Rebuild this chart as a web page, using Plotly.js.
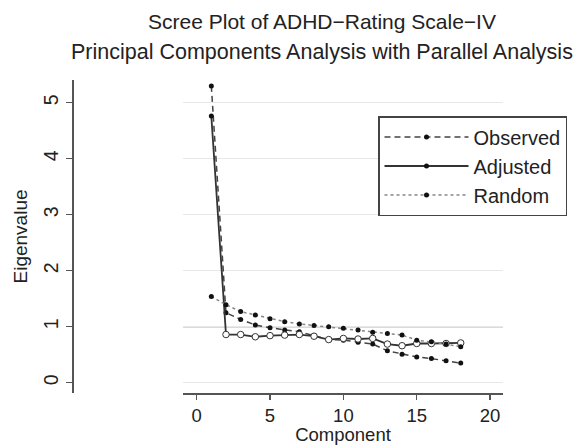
<!DOCTYPE html>
<html>
<head>
<meta charset="utf-8">
<script src="https://cdn.plot.ly/plotly-3.0.1.min.js"></script>
<style>html,body{margin:0;padding:0;background:#fff;}#chart{width:587px;height:445px;}</style>
</head>
<body>
<div id="chart"></div>
<script>
// ---- data ----
const components = [1,2,3,4,5,6,7,8,9,10,11,12,13,14,15,16,17,18];
const observed = [5.30,1.25,1.13,1.03,0.98,0.94,0.91,0.84,0.77,0.76,0.72,0.69,0.57,0.51,0.46,0.43,0.39,0.35];
const adjusted = [4.76,0.86,0.86,0.82,0.84,0.85,0.86,0.83,0.77,0.79,0.78,0.79,0.69,0.66,0.70,0.70,0.70,0.71];
const random   = [1.54,1.39,1.27,1.21,1.14,1.09,1.05,1.02,1.00,0.97,0.94,0.90,0.88,0.85,0.76,0.73,0.69,0.64];
const retained = [true,false,false,false,false,false,false,false,false,false,false,false,false,false,false,false,false,false];
const seriesNames = ["Observed","Adjusted","Random"];
const xTicks = [0,5,10,15,20];
const yTicks = [0,1,2,3,4,5];
const kaiserValue = 1;
const titleText = "Scree Plot of ADHD\u2212Rating Scale\u2212IV";
const subtitleText = "Principal Components Analysis with Parallel Analysis";

const FONT = "Liberation Sans, Arial, Helvetica, sans-serif";
const W = 587, H = 445;
const mT = 80, mB = 52;
const plotH = H - mT - mB;

const unretainedX = components.filter((c, i) => !retained[i]);
const unretainedY = adjusted.filter((v, i) => !retained[i]);

const traces = [
  {
    x: components, y: observed, name: seriesNames[0], type: "scatter", mode: "lines+markers",
    line: {color: "#444", width: 1.5, dash: "6px,4px"},
    marker: {color: "#111", size: 5}
  },
  {
    x: components, y: adjusted, name: seriesNames[1], type: "scatter", mode: "lines+markers",
    line: {color: "#333", width: 1.8},
    marker: {color: "#111", size: 5}
  },
  {
    x: unretainedX, y: unretainedY, name: seriesNames[1] + " (not retained)", type: "scatter", mode: "markers",
    showlegend: false,
    marker: {color: "#fff", size: 6.5, line: {color: "#333", width: 1}}
  },
  {
    x: components, y: random, name: seriesNames[2], type: "scatter", mode: "lines+markers",
    line: {color: "#888", width: 1.5, dash: "dot"},
    marker: {color: "#111", size: 5}
  }
];

const layout = {
  width: W, height: H,
  margin: {l: 0, r: 0, t: mT, b: mB},
  paper_bgcolor: "#fff", plot_bgcolor: "#fff",
  font: {family: FONT, color: "#222", size: 19},
  showlegend: true,
  title: {
    text: titleText,
    font: {family: FONT, size: 21, color: "#222"},
    x: 322 / W, xanchor: "center", xref: "paper",
    y: 1 - 22 / H, yanchor: "middle", yref: "container"
  },
  annotations: [{
    text: subtitleText, showarrow: false,
    xref: "paper", yref: "paper",
    x: 322 / W, xanchor: "center",
    y: (H - mB - 52) / plotH, yanchor: "middle",
    font: {family: FONT, size: 21.5, color: "#222"}
  }],
  xaxis: {
    domain: [183 / W, 503 / W],
    range: [-0.93, 20.88],
    tickvals: xTicks, ticktext: xTicks.map(String),
    showgrid: false, zeroline: false,
    showline: true, linecolor: "#555", linewidth: 1.5,
    ticks: "outside", ticklen: 5, tickcolor: "#555", tickwidth: 1.2,
    tickfont: {family: FONT, size: 18.5, color: "#222"},
    title: {text: "Component", font: {family: FONT, size: 18.5, color: "#222"}, standoff: 0},
    fixedrange: true
  },
  yaxis: {
    anchor: "free", position: 72 / W,
    range: [-0.184, 5.405],
    tickvals: yTicks, ticktext: yTicks.map(String),
    tickangle: -90,
    showgrid: true, gridcolor: "#e8e8e8", gridwidth: 1,
    zeroline: false,
    showline: true, linecolor: "#555", linewidth: 1.5,
    ticks: "outside", ticklen: 6, tickcolor: "#555", tickwidth: 1.2,
    tickfont: {family: FONT, size: 19.5, color: "#222"},
    title: {text: "Eigenvalue", font: {family: FONT, size: 19, color: "#222"}, standoff: 6},
    fixedrange: true
  },
  shapes: [{
    type: "line", xref: "x domain", x0: 0, x1: 1,
    yref: "y", y0: kaiserValue, y1: kaiserValue,
    line: {color: "#b5b5b5", width: 1.6}, layer: "below"
  }],
  legend: {
    x: 378 / W, xanchor: "left",
    y: (H - mB - 116) / plotH, yanchor: "top",
    bgcolor: "#fff", bordercolor: "#444", borderwidth: 1.5,
    font: {family: FONT, size: 20, color: "#222"},
    itemwidth: 84,
    tracegroupgap: 0
  }
};

Plotly.newPlot("chart", traces, layout, {displayModeBar: false, staticPlot: true});
</script>
</body>
</html>
